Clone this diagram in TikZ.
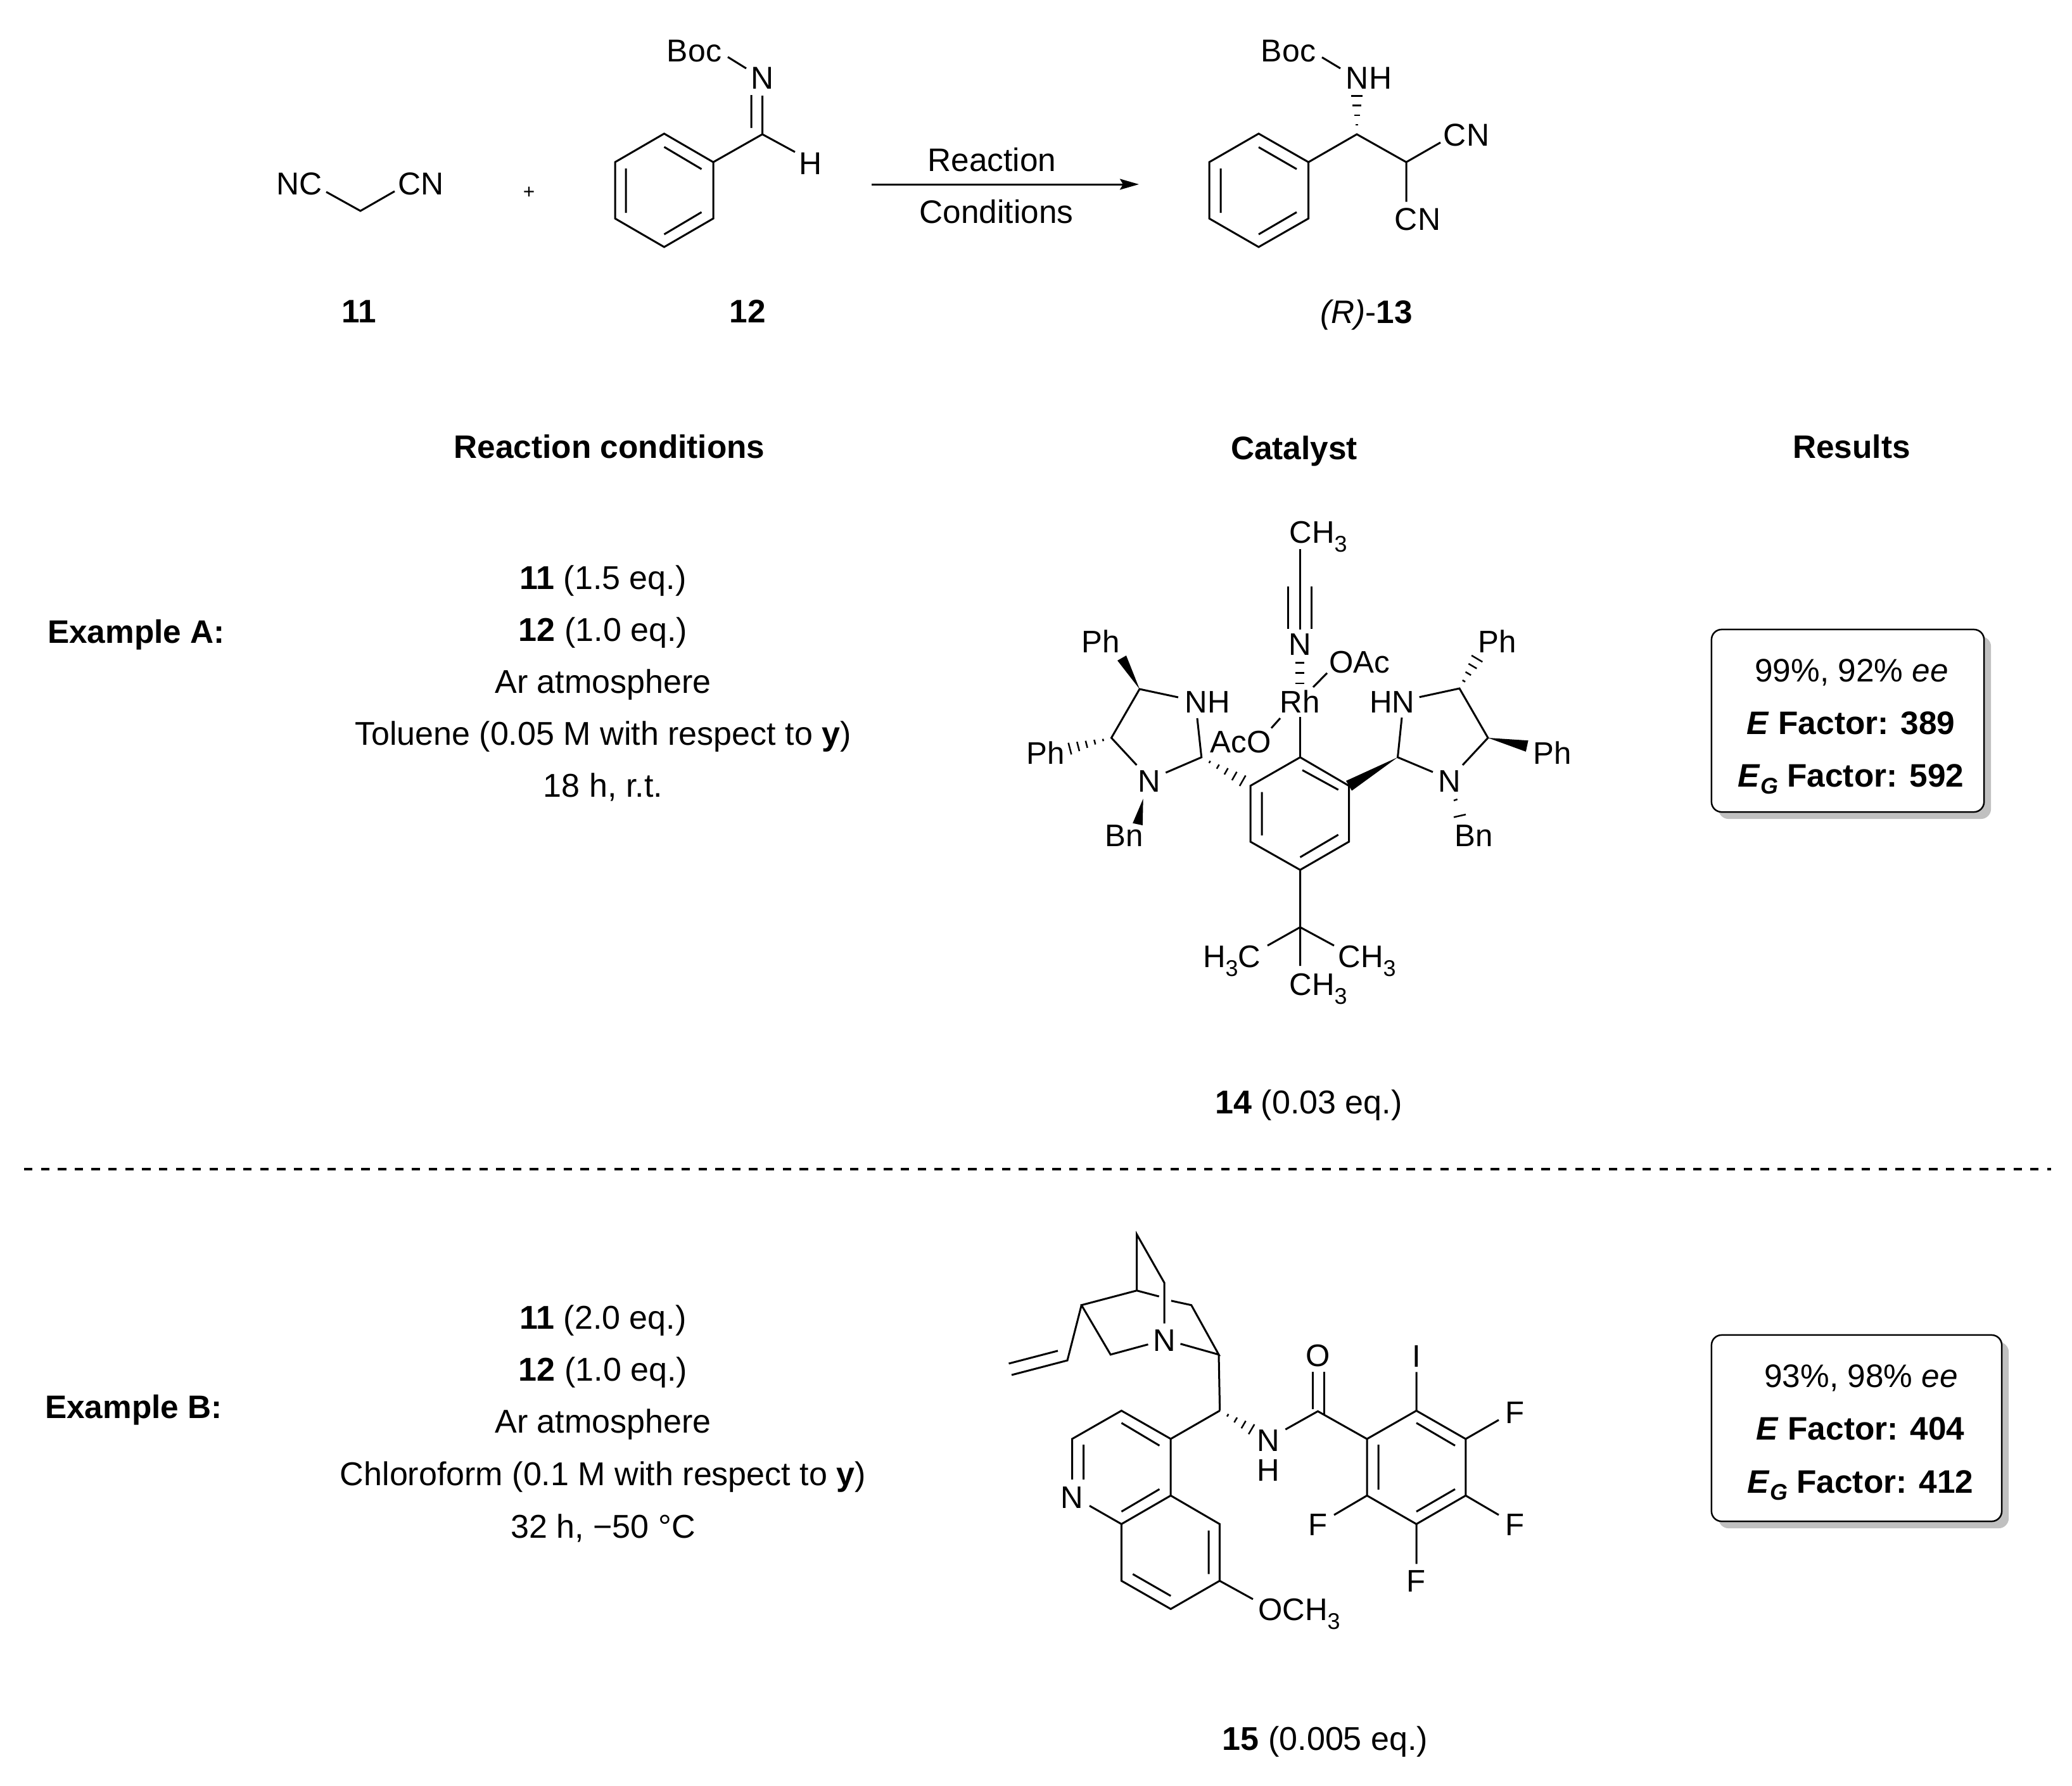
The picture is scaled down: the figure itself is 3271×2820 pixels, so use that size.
\documentclass[tikz,border=0pt]{standalone}
\usepackage{fontspec}
\setmainfont{Liberation Sans}
\usetikzlibrary{calc,arrows.meta}
\newcommand{\subn}[1]{\raisebox{-0.135cm}{\fontsize{10.2}{12}\selectfont #1}}
\newcommand{\subg}[1]{\raisebox{-0.11cm}{\fontsize{10.2}{12}\selectfont\bfseries\itshape #1}}
% hashed bond: narrow at #1, wide at #2, #3 strokes, half width #4 (px)
\newcommand{\hashb}[4]{\foreach \i in {1,...,#3}{%
  \pgfmathsetmacro\tt{\i/#3}\pgfmathsetmacro\hw{#4*\tt*0.01}%
  \coordinate (hp) at ($(#1)!\tt!(#2)$);
  \draw[hashline] ($(hp)!\hw cm!90:(#1)$) -- ($(hp)!\hw cm!-90:(#1)$);}}
% solid wedge: narrow at #1, wide at #2, half width #3 (cm)
\newcommand{\wedgeb}[3]{\fill ($(#2)!#3!90:(#1)$) -- (#1) -- ($(#2)!#3!-90:(#1)$) -- cycle;}
\newcommand{\cpt}[2]{\coordinate (#1) at (#2);}
\tikzset{
  bond/.style={line width=0.03cm,line cap=butt,line join=miter},
  hashline/.style={line width=0.025cm},
  txt/.style={inner sep=0pt,text height=0.36cm,text depth=0pt,font=\fontsize{14.6}{17}\selectfont},
  bigtxt/.style={inner sep=0pt,text height=0.36cm,text depth=0pt,font=\fontsize{14.8}{17}\selectfont},
  boldtxt/.style={inner sep=0pt,text height=0.36cm,text depth=0pt,font=\fontsize{14.6}{17}\selectfont\bfseries},
  atomlab/.style={inner sep=0pt,text height=0.355cm,text depth=0pt,font=\fontsize{14.2}{17}\selectfont},
  catlab/.style={inner sep=0pt,text height=0.355cm,text depth=0pt,font=\fontsize{14}{17}\selectfont},
  resbox/.style={draw=black,line width=0.025cm,fill=white,rounded corners=0.16cm,inner sep=0pt},
  shadowbox/.style={fill=shadowgrey,rounded corners=0.16cm,inner sep=0pt},
  rxnarrow/.style={line width=0.03cm,-{Stealth[length=0.3cm,width=0.17cm,inset=0.05cm]}},
  sepline/.style={line width=0.035cm,dash pattern=on 0.133cm off 0.133cm}
}
\definecolor{shadowgrey}{HTML}{C0C0C0}
\begin{document}
\begin{tikzpicture}[x=0.01cm,y=-0.01cm]
\useasboundingbox[fill=white] (0,0) rectangle (3271,2820);

%%% ---------- reaction scheme ---------
\node[atomlab] (nc1) at (473,290) {NC};
\node[atomlab] (cn1) at (665,290) {CN};
\cpt{m1}{515,303}\cpt{m2}{569,333}\cpt{m3}{623,302}
\draw[bond] (m1) -- (m2) -- (m3);
\node[inner sep=0pt,font=\fontsize{9}{10}\selectfont] (plus) at (835,304) {+};

% 12
\cpt{a1}{1048.5,211}\cpt{a2}{1126,256}\cpt{a3}{1126,345}\cpt{a4}{1048.5,390}\cpt{a5}{971,345}\cpt{a6}{971,256}
\draw[bond] (a1) -- (a2) -- (a3) -- (a4) -- (a5) -- (a6) -- cycle;
\cpt{i1}{1048.5,232}\cpt{i2}{1107.5,267}\cpt{i3}{988,266}\cpt{i4}{988,336}\cpt{i5}{1048.5,370}\cpt{i6}{1107.5,335}
\draw[bond] (i1) -- (i2) (i3) -- (i4) (i5) -- (i6);
\cpt{a7}{1203.5,212}\cpt{a8}{1255,240}\cpt{a9}{1203.5,151}\cpt{a10}{1186,202}\cpt{a11}{1186,150}\cpt{a12}{1149,90}\cpt{a13}{1178,108}
\draw[bond] (a2) -- (a7) -- (a8) (a7) -- (a9) (a10) -- (a11) (a12) -- (a13);
\node[atomlab] (h12) at (1280,257.6) {H};
\node[atomlab] (n12) at (1204,123) {N};
\node[atomlab] (boc12) at (1096,79.5) {Boc};

% arrow
\cpt{ar1}{1376,291}\cpt{ar2}{1798,291}
\draw[rxnarrow] (ar1) -- (ar2);
\node[txt] (rea) at (1566,252) {Reaction};
\node[txt] (con) at (1573,334) {Conditions};

% 13
\cpt{b1}{1987,211}\cpt{b2}{2065.6,256}\cpt{b3}{2065.6,345}\cpt{b4}{1987,390}\cpt{b5}{1909,345}\cpt{b6}{1909,256}
\draw[bond] (b1) -- (b2) -- (b3) -- (b4) -- (b5) -- (b6) -- cycle;
\cpt{j1}{1987,232.4}\cpt{j2}{2047,267}\cpt{j3}{1927,266}\cpt{j4}{1927,336}\cpt{j5}{1987,370}\cpt{j6}{2047,335}
\draw[bond] (j1) -- (j2) (j3) -- (j4) (j5) -- (j6);
\cpt{b7}{2142,212}\cpt{b8}{2220,256}\cpt{b9}{2274,225}\cpt{b10}{2220,318.5}\cpt{b11}{2087,90.5}\cpt{b12}{2116,108}\cpt{b13}{2142,151.5}
\draw[bond] (b2) -- (b7) -- (b8) -- (b9) (b8) -- (b10) (b11) -- (b12);
\hashb{b7}{b13}{4}{9}
\node[atomlab] (boc13) at (2034,79.5) {Boc};
\node[atomlab] (nh13) at (2161,123) {NH};
\node[atomlab] (cn13a) at (2315,213) {CN};
\node[atomlab] (cn13b) at (2238,346) {CN};

% compound labels
\node[boldtxt] (l11) at (567,491) {11};
\node[boldtxt] (l12) at (1180,491) {12};
\node[txt] (l13) at (2157,492) {\textit{(R)}-\textbf{13}};

%%% ---------- headers ---------
\node[boldtxt] (h1) at (962,705) {Reaction conditions};
\node[boldtxt] (h2) at (2043,707) {Catalyst};
\node[boldtxt] (h3) at (2923,705) {Results};

%%% ---------- Example A ---------
\node[boldtxt] (exa) at (215,997) {Example A:};
\node[bigtxt] (a11) at (952,912) {\textbf{11} (1.5 eq.)};
\node[bigtxt] (a12) at (952,994) {\textbf{12} (1.0 eq.)};
\node[bigtxt] (a13) at (952,1076) {Ar atmosphere};
\node[bigtxt] (a14) at (952,1158) {Toluene (0.05 M with respect to \textbf{y})};
\node[bigtxt] (a15) at (952,1240) {18 h, r.t.};

% catalyst 14
\cpt{c1}{2052.5,1195.7}\cpt{c2}{2129.5,1240.7}\cpt{c3}{2129.5,1329}\cpt{c4}{2052.5,1373.5}\cpt{c5}{1974,1329}\cpt{c6}{1974,1240.7}
\draw[bond] (c1) -- (c2) -- (c3) -- (c4) -- (c5) -- (c6) -- cycle;
\cpt{k1}{2056,1216}\cpt{k2}{2112.7,1247}\cpt{k3}{1992,1250.5}\cpt{k4}{1992,1319}\cpt{k5}{2052.5,1353.5}\cpt{k6}{2112.7,1318}
\draw[bond] (k1) -- (k2) (k3) -- (k4) (k5) -- (k6);
\cpt{rhb}{2052.5,1132}
\draw[bond] (rhb) -- (c1);
\cpt{tb}{2052.5,1464}\cpt{tb1}{2052.5,1525}\cpt{tb2}{2001,1493}\cpt{tb3}{2106,1493}
\draw[bond] (c4) -- (tb) -- (tb1) (tb) -- (tb2) (tb) -- (tb3);
\node[catlab] (h3c) at (1944.6,1510) {H\subn{3}C};
\node[catlab] (ch3r) at (2158,1510) {CH\subn{3}};
\node[catlab] (ch3b) at (2081,1554) {CH\subn{3}};
\node[catlab] (ch3t) at (2081,840) {CH\subn{3}};
\cpt{t1}{2052.5,866.7}\cpt{t2}{2052.5,994}\cpt{t3}{2033.7,926}\cpt{t4}{2033.7,992.5}\cpt{t5}{2070.5,926}\cpt{t6}{2070.5,992.5}
\draw[bond] (t1) -- (t2) (t3) -- (t4) (t5) -- (t6);
\node[catlab] (ncat) at (2052.5,1017) {N};
% N-Rh dashes
\cpt{d1a}{2044.7,1046.7}\cpt{d1b}{2059,1046.7}\cpt{d2a}{2045,1062.7}\cpt{d2b}{2058.5,1062.7}\cpt{d3a}{2045,1079}\cpt{d3b}{2058.5,1079}
\draw[hashline] (d1a) -- (d1b) (d2a) -- (d2b) (d3a) -- (d3b);
\node[catlab] (rh) at (2052,1108) {Rh};
\node[catlab] (oac) at (2146,1044.5) {OAc};
\node[catlab] (aco) at (1958.5,1171) {AcO};
\cpt{o1}{2073,1085}\cpt{o2}{2095,1062.7}\cpt{o3}{2021,1134}\cpt{o4}{2007,1149.6}
\draw[bond] (o1) -- (o2) (o3) -- (o4);
% left imidazolidine
\cpt{l1}{1799,1088}\cpt{l2}{1860,1101}\cpt{l3}{1754.5,1165}\cpt{l4}{1794.4,1208}\cpt{l5}{1840.3,1220}\cpt{l6}{1896.7,1195.7}\cpt{l7}{1890,1134}\cpt{l8}{1961.7,1232.7}
\draw[bond] (l2) -- (l1) -- (l3) -- (l4) (l5) -- (l6) -- (l7);
\hashb{l6}{l8}{5}{9.5}
\cpt{lw}{1771,1039}\wedgeb{l1}{lw}{0.08cm}
\cpt{lh}{1689,1182}\hashb{l3}{lh}{5}{9.5}
\cpt{lb1}{1804.7,1261}\cpt{lb2}{1796,1301.4}\wedgeb{lb1}{lb2}{0.08cm}
\node[catlab] (nhl) at (1906,1108) {NH};
\node[catlab] (nl) at (1814.5,1232.5) {N};
\node[catlab] (ph1) at (1738,1013) {Ph};
\node[catlab] (ph2) at (1651,1189) {Ph};
\node[catlab] (bn1) at (1774.6,1319) {Bn};
% right imidazolidine
\cpt{r1}{2206.5,1195.7}\cpt{r2}{2213,1133}\cpt{r3}{2262,1219}\cpt{r4}{2309,1208}\cpt{r5}{2349,1165}\cpt{r6}{2304,1087}\cpt{r7}{2240.7,1100.7}
\draw[bond] (r2) -- (r1) -- (r3) (r4) -- (r5) -- (r6) -- (r7);
\cpt{rwe}{2129.5,1240.7}\wedgeb{r1}{rwe}{0.09cm}
\cpt{rw2}{2410.7,1178}\wedgeb{r5}{rw2}{0.09cm}
\cpt{rh2}{2331.7,1040}\hashb{r6}{rh2}{4}{10}
\cpt{rb2}{2295,1264}\cpt{rb3}{2300.7,1262}\cpt{rb4}{2295,1290.3}\cpt{rb5}{2314,1286}
\draw[hashline] (rb2) -- (rb3) (rb4) -- (rb5);
\node[catlab] (hnr) at (2197.6,1108) {HN};
\node[catlab] (nr) at (2288.5,1232.7) {N};
\node[catlab] (ph3) at (2363.6,1013) {Ph};
\node[catlab] (ph4) at (2451,1189) {Ph};
\node[catlab] (bn2) at (2326.6,1319) {Bn};

\node[bigtxt] (l14) at (2066,1740) {\textbf{14} (0.03 eq.)};

% result box A
\node[shadowbox,minimum width=4.3cm,minimum height=2.88cm] (sa) at (2928,1149) {};
\node[resbox,minimum width=4.3cm,minimum height=2.88cm] (ba) at (2917,1138) {};
\node[txt] (ra1) at (2923,1058) {99\%, 92\% \textit{ee}};
\node[txt] (ra2) at (2922,1141) {\textbf{\textit{E} Factor: 389}};
\node[txt] (ra3) at (2922,1224) {\textbf{\textit{E}\subg{G} Factor: 592}};

%%% separator
\cpt{s1}{38,1846}\cpt{s2}{3238,1846}
\draw[sepline] (s1) -- (s2);

%%% ---------- Example B ---------
\node[boldtxt] (exb) at (211,2221) {Example B:};
\node[bigtxt] (b11) at (952,2080) {\textbf{11} (2.0 eq.)};
\node[bigtxt] (b12) at (952,2162) {\textbf{12} (1.0 eq.)};
\node[bigtxt] (b13) at (952,2244) {Ar atmosphere};
\node[bigtxt] (b14) at (952,2327) {Chloroform (0.1 M with respect to \textbf{y})};
\node[bigtxt] (b15) at (952,2410) {32 h, −50 °C};

% catalyst 15: quinuclidine
\cpt{q1}{1794.6,1949}\cpt{q2}{1838,2025.3}\cpt{q3}{1794.6,2037.7}\cpt{q4}{1707.3,2060.7}\cpt{q5}{1829.7,2047}\cpt{q6}{1848.9,2053.8}\cpt{q7}{1880.7,2060.7}\cpt{q8}{1838,2089.6}\cpt{q9}{1753.2,2138.8}\cpt{q10}{1812.5,2122.7}\cpt{q11}{1685,2148}\cpt{q12}{1597,2171}\cpt{q13}{1670,2132.8}\cpt{q14}{1592.5,2153}\cpt{q15}{1924,2138.8}\cpt{q16}{1863.5,2121.8}\cpt{q17}{1925.7,2227.3}
\draw[bond] (q3) -- (q1) -- (q2) -- (q8) (q5) -- (q3) -- (q4) -- (q9) -- (q10) (q4) -- (q11) -- (q12) (q13) -- (q14) (q6) -- (q7) -- (q15) -- (q16) (q15) -- (q17);
\node[catlab] (nq) at (1838,2115.8) {N};
% quinoline
\cpt{w1}{1848.2,2271.9}\cpt{w2}{1770.4,2227.4}\cpt{w3}{1692.6,2271.9}\cpt{w4}{1692.6,2336}\cpt{w5}{1720,2377.5}\cpt{w6}{1770.4,2406.4}\cpt{w7}{1848.2,2361.4}\cpt{w8}{1925.4,2406.4}\cpt{w9}{1925.4,2496}\cpt{w10}{1848.2,2540.5}\cpt{w11}{1770.4,2496}\cpt{w12}{1978,2525}
\draw[bond] (q17) -- (w1) -- (w2) -- (w3) -- (w4) (w5) -- (w6) -- (w7) -- (w1) (w7) -- (w8) -- (w9) -- (w10) -- (w11) -- (w6) (w9) -- (w12);
\cpt{v1}{1770.4,2246.7}\cpt{v2}{1830.4,2282.5}\cpt{v3}{1710.5,2281}\cpt{v4}{1710.5,2336}\cpt{v5}{1770.4,2386.7}\cpt{v6}{1830.4,2351.3}\cpt{v7}{1908,2416.5}\cpt{v8}{1908,2485.4}\cpt{v9}{1788.3,2485.4}\cpt{v10}{1848.2,2519.8}
\draw[bond] (v1) -- (v2) (v3) -- (v4) (v5) -- (v6) (v7) -- (v8) (v9) -- (v10);
\node[catlab] (nq2) at (1692.6,2363.7) {N};
\node[catlab] (och3) at (2051,2541) {OCH\subn{3}};
% amide and aryl
\cpt{hn}{1975.7,2256.7}\hashb{q17}{hn}{4}{9}
\node[catlab] (na) at (2002,2274) {N};
\node[catlab] (ha) at (2002,2321) {H};
\cpt{e1}{2029.3,2257}\cpt{e2}{2080.4,2228.3}\cpt{e3}{2158,2272}\cpt{e4}{2236,2227.4}\cpt{e5}{2313.8,2272}\cpt{e6}{2313.8,2361.4}\cpt{e7}{2236,2406.4}\cpt{e8}{2158,2361.4}
\draw[bond] (e1) -- (e2) -- (e3) -- (e4) -- (e5) -- (e6) -- (e7) -- (e8) -- (e3);
\cpt{e9}{2072,2166}\cpt{e10}{2072,2225}\cpt{e11}{2090,2166}\cpt{e12}{2090,2233}
\draw[bond] (e9) -- (e10) (e11) -- (e12);
\node[catlab] (oa) at (2080.4,2139.7) {O};
\cpt{f1}{2236,2246.7}\cpt{f2}{2297,2282.5}\cpt{f3}{2297,2351.3}\cpt{f4}{2236,2386.7}\cpt{f5}{2176,2281}\cpt{f6}{2176,2352}
\draw[bond] (f1) -- (f2) (f3) -- (f4) (f5) -- (f6);
\cpt{g1}{2236,2166.3}\cpt{g2}{2366,2242}\cpt{g3}{2366,2392}\cpt{g4}{2236,2469.4}\cpt{g5}{2106,2392}
\draw[bond] (e4) -- (g1) (e5) -- (g2) (e6) -- (g3) (e7) -- (g4) (e8) -- (g5);
\node[catlab] (ia) at (2236,2141) {I};
\node[catlab] (fa) at (2392,2229.7) {F};
\node[catlab] (fb) at (2391.6,2407) {F};
\node[catlab] (fc) at (2236,2496) {F};
\node[catlab] (fd) at (2080.4,2407) {F};

\node[bigtxt] (l15) at (2092,2745) {\textbf{15} (0.005 eq.)};

% result box B
\node[shadowbox,minimum width=4.58cm,minimum height=2.94cm] (sb) at (2942,2266) {};
\node[resbox,minimum width=4.58cm,minimum height=2.94cm] (bb) at (2931,2255) {};
\node[txt] (rb1a) at (2938,2172) {93\%, 98\% \textit{ee}};
\node[txt] (rb2a) at (2937,2255) {\textbf{\textit{E} Factor: 404}};
\node[txt] (rb3a) at (2937,2339) {\textbf{\textit{E}\subg{G} Factor: 412}};
\end{tikzpicture}
\end{document}
